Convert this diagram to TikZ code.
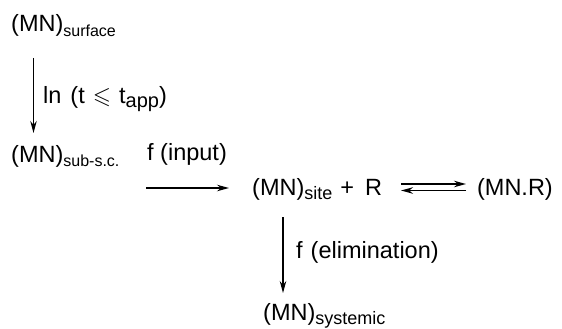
\documentclass[tikz,border=0pt]{standalone}
\usepackage{amssymb}
\usepackage{fontspec}
\setmainfont{Liberation Sans}
\usetikzlibrary{arrows.meta}
\newcommand\sbs[2][17]{\raisebox{-4.5pt}{\fontsize{#1}{#1}\selectfont #2}}
\begin{document}
\begin{tikzpicture}[x=1pt,y=-1pt,
  lbl/.style={anchor=base west,inner sep=0pt,font=\fontsize{23.5}{28}\selectfont},
  arr/.style={line width=1.3pt,-{Stealth[length=12pt,width=6.5pt]}}]
\useasboundingbox (0,0) rectangle (562,329);
\node[lbl] (surf) at (11,32) {(MN)\sbs[16]{surface}};
\node[lbl] (subsc) at (11,162) {(MN)\sbs[16]{sub-s.c.}};
\node[lbl] (site) at (252,195) {(MN)\sbs[18]{site}\hspace{8pt}+\hspace{11pt}R};
\node[lbl,anchor=base east] (mnr) at (553,195) {(MN.R)};
\node[lbl] (syst) at (263,320) {(MN)\sbs[18]{systemic}};
\coordinate (a1s) at (33.5,58);
\coordinate (a1e) at (33.5,133);
\draw[arr] (a1s) -- (a1e);
\node[lbl] (ln) at (43,103) {ln\hspace{9pt}(t\hspace{8pt}$\leqslant$\hspace{8pt}t\sbs[20]{app})};
\coordinate (a2s) at (146,188);
\coordinate (a2e) at (229,188);
\draw[arr] (a2s) -- (a2e);
\node[lbl] (fin) at (147,160) {f (input)};
\coordinate (e1s) at (401,184);
\coordinate (e1e) at (466,184);
\coordinate (e2s) at (466,190.5);
\coordinate (e2e) at (401,190.5);
\draw[arr,line width=1.6pt] (e1s) -- (e1e);
\draw[arr,line width=1.6pt] (e2s) -- (e2e);
\coordinate (a3s) at (283,217);
\coordinate (a3e) at (283,293);
\draw[arr] (a3s) -- (a3e);
\node[lbl] (fel) at (296,258) {f\hspace{8pt}(elimination)};
\end{tikzpicture}
\end{document}
